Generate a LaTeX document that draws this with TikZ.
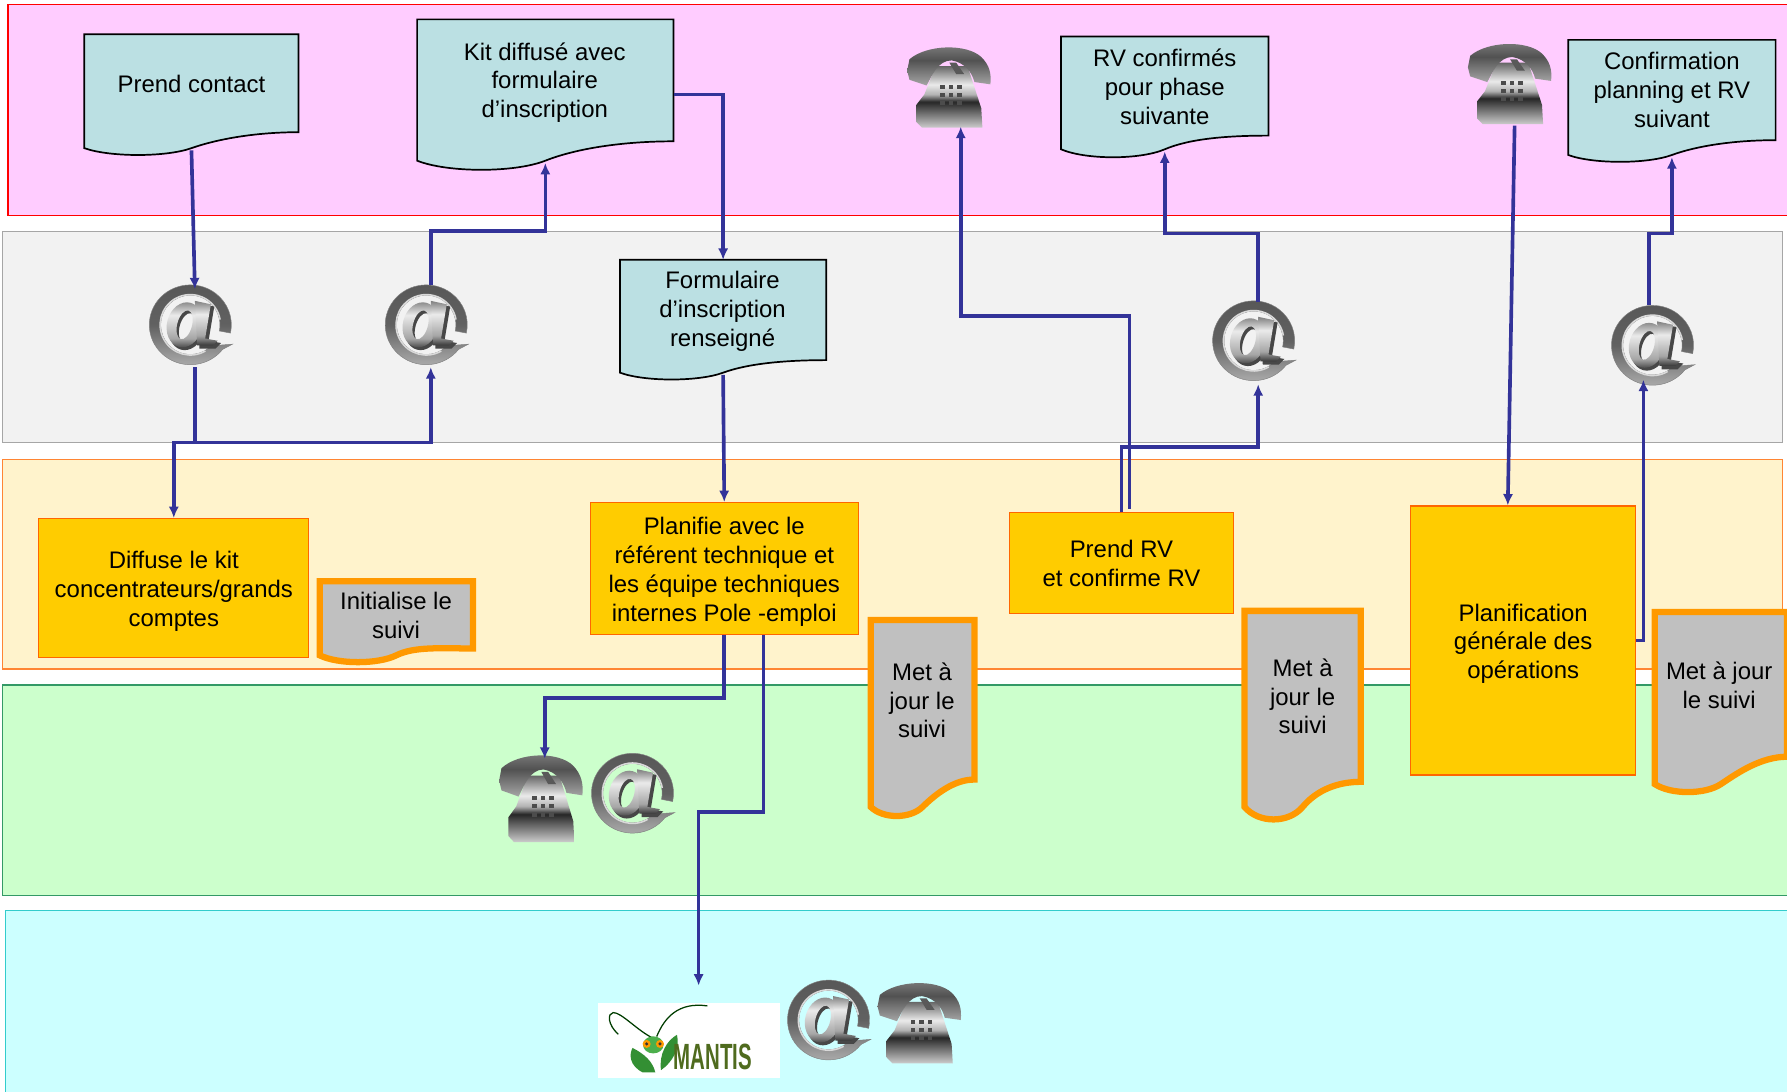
\documentclass[tikz,border=0pt]{standalone}
\usepackage{fontspec}
\setmainfont{Liberation Sans}
\usetikzlibrary{calc,arrows.meta}

\definecolor{flowblue}{HTML}{333399}
\definecolor{docblue}{HTML}{BBE0E3}
\definecolor{taskgold}{HTML}{FFCC00}
\definecolor{taskline}{HTML}{FF6600}
\definecolor{trackorange}{HTML}{FF9900}
\definecolor{trackgray}{HTML}{C0C0C0}
\definecolor{bandpink}{HTML}{FFCCFF}
\definecolor{bandgray}{HTML}{F2F2F2}
\definecolor{bandcream}{HTML}{FFF3CC}
\definecolor{bandgreen}{HTML}{CCFFCC}
\definecolor{bandcyan}{HTML}{CCFFFF}
\definecolor{linegreen}{HTML}{339966}
\definecolor{linecyan}{HTML}{33CCCC}
\definecolor{mantisgreen}{HTML}{4F6B1E}

\pgfdeclareverticalshading{metalring}{100bp}{color(0bp)=(black!30); color(25bp)=(black!30); color(50bp)=(black!62); color(75bp)=(black!66); color(100bp)=(black!66)}
\pgfdeclareverticalshading{metalletter}{100bp}{color(0bp)=(black!78); color(25bp)=(black!78); color(36bp)=(black!35); color(60bp)=(black!8); color(75bp)=(black!50); color(100bp)=(black!50)}
\pgfdeclareverticalshading{phonebody}{100bp}{color(0bp)=(black!20); color(25bp)=(black!20); color(46bp)=(black!85); color(52bp)=(black!30); color(60bp)=(black!8); color(75bp)=(black!60); color(100bp)=(black!60)}
\pgfdeclareverticalshading{phonehandset}{100bp}{color(0bp)=(black!35); color(25bp)=(black!35); color(55bp)=(black!68); color(75bp)=(black!50); color(100bp)=(black!50)}

\tikzset{
	bandbox/.style={line width=1pt},
	doctext/.style={align=center, inner sep=0pt, font=\fontsize{21}{25.4}\selectfont},
	taskbox/.style={draw=taskline, fill=taskgold, line width=1pt, align=center, inner sep=0pt, font=\fontsize{21}{25.4}\selectfont},
	flow/.style={draw=flowblue, line width=3.2pt, -{Latex[length=10pt,width=9pt]}},
	flowline/.style={draw=flowblue, line width=3.2pt},
	iconbox/.style={inner sep=0pt, minimum width=73pt, minimum height=70pt},
	noticedoc/.style={draw=black, line width=1.5pt, fill=docblue},
	trackdoc/.style={draw=trackorange, line width=5.5pt, fill=trackgray}
}

\def\textdrop{\rule{0pt}{21pt}}

\def\docshape[#1](#2)(#3,#4:#5,#6,#7,#8){
	\pgfmathsetmacro\docxm{(#3+#4)/2}
	\pgfmathsetmacro\docdx{0.12*(#4-#3)}
	\pgfmathsetmacro\docyc{#7+(#8-#7)*4/3}
	\pgfmathsetmacro\docyu{2*#7-\docyc}
	\draw[#1] (#3,#5) -- (#4,#5) -- (#4,#6) .. controls ({#4-0.2*(#4-#3)},#6) and ({\docxm+\docdx},\docyu) .. (\docxm,#7) .. controls ({\docxm-\docdx},\docyc) and ({#3+\docdx},\docyc) .. (#3,#7) -- cycle;
	\coordinate (#2-n) at (\docxm,#5);
	\coordinate (#2-s) at (\docxm,{#7+2});
	\coordinate (#2-e) at (#4,{(#5+#6)/2});
}

\def\mailicon(#1)(#2,#3){
	\begin{scope}[shift={(#2,#3)}]
		\shade[shading=metalring, draw=black!50, line width=.4pt] (37,17) -- (38:36 and 35) arc (38:372:36 and 35) -- (372:26 and 26) arc (372:45:26 and 26) -- cycle;
		\draw[white!85!black, line width=1.4pt] (60:26.5 and 26.5) arc (60:350:26.5 and 26.5);
		\fill[black!72, even odd rule] (-3,2.5) circle [x radius=15.5, y radius=20, rotate=-15] (-3,2.5) circle [x radius=6.5, y radius=13, rotate=-15];
		\fill[black!72] (7,-19) -- (21,-16) -- (16,14) -- (27,16) -- (22,21) -- (8,21) -- cycle;
		\shade[shading=metalletter, even odd rule] (-5,0) circle [x radius=15.5, y radius=20, rotate=-15] (-5,0) circle [x radius=6.5, y radius=13, rotate=-15];
		\shade[shading=metalletter] (4,-21) -- (18,-18) -- (13,12) -- (24,14) -- (20,18) -- (6,18) -- cycle;
		\node[iconbox] (#1) at (0,0) {};
	\end{scope}
}

\def\phoneicon(#1)(#2,#3,#4){
	\begin{scope}[shift={(#2,#3)}]
		\begin{scope}[yscale=#4]
			\shade[shading=phonebody] (-12,-18) -- (16,-18) -- (28,19) -- (29,36) -- (-24,36) -- (-29,31) -- (-29,16) -- (-22,7) -- cycle;
			\shade[shading=phonehandset] (-35,-24) .. controls (-20,-37) and (15,-38) .. (28,-26) .. controls (35,-19) and (37,-12) .. (36,-2) -- (22,-4) .. controls (20,-12) and (14,-21) .. (2,-23) .. controls (-10,-23) and (-15,-10) .. (-20,-1) -- (-35,-6) -- (-37,-14) -- cycle;
			\fill[black!65] (0,-21) -- (6,-21) -- (13,-11) -- (6,-11) -- cycle;
			\foreach \kx in {-6,1.5,9}
				\foreach \ky in {0,7,14}
					\fill[black!70] (\kx-2,\ky-1.7) rectangle (\kx+2,\ky+1.7);
		\end{scope}
		\node[iconbox, minimum width=74pt, minimum height=74pt] (#1) at (0,0) {};
	\end{scope}
}

\begin{document}
\begin{tikzpicture}[x=1pt, y=-1pt]
			%%%%% START %%%%%
			\clip (0,0) rectangle (1568,957.3);
			
			\draw[bandbox, draw=red, fill=bandpink] (7,4) rectangle (1575,189);
			\draw[bandbox, draw=black!35, fill=bandgray] (2,203) rectangle (1564,388);
			\draw[bandbox, draw=taskline!80, fill=bandcream] (2,403) rectangle (1564,587);
			\draw[bandbox, draw=linegreen, fill=bandgreen] (2,601) rectangle (1575,786);
			\draw[bandbox, draw=linecyan, fill=bandcyan] (5,799) rectangle (1575,970);
			
			\docshape[noticedoc](prend)(74,262:30,116,130,136);
			\node[doctext] (prendtext) at (168,74) {Prend contact};
			\docshape[noticedoc](kit)(366,591:17,124,141,149);
			\node[doctext] (kittext) at (478,72.5) {Kit diffusé avec\\formulaire\\d’inscription};
			\docshape[noticedoc](form)(544,725:228,316,327,333);
			\node[doctext] (formtext) at (634,273) {Formulaire\\d’inscription\\renseigné};
			\docshape[noticedoc](rv)(931,1113:32,119,131,138);
			\node[doctext] (rvtext) at (1022,76) {RV confirmés\\pour phase\\suivante};
			\docshape[noticedoc](conf)(1376,1558:35,123,136,142);
			\node[doctext] (conftext) at (1467,79) {Confirmation\\planning et RV\\suivant};
			
			\node[taskbox, minimum width=237pt, minimum height=122pt] (diffuse) at (152.5,516) {\textdrop Diffuse le kit\\concentrateurs/grands\\comptes};
			\node[taskbox, minimum width=235pt, minimum height=116pt] (planifie) at (635.5,499) {\textdrop Planifie avec le\\référent technique et\\les équipe techniques\\internes Pole -emploi};
			\node[taskbox, minimum width=196pt, minimum height=88pt] (prendrv) at (984,494) {Prend RV\\et confirme RV};
			\node[taskbox, minimum width=197pt, minimum height=236pt] (plan) at (1336.5,562) {\textdrop Planification\\générale des\\opérations};
			
			\docshape[trackdoc](suivi1)(280.5,415:510,569,575,581);
			\node[doctext] (suivi1text) at (347.5,540) {Initialise le\\suivi};
			\docshape[trackdoc](suivi2)(764,855:544,684,708,716);
			\node[doctext] (suivi2text) at (809,614.5) {Met à\\jour le\\suivi};
			\docshape[trackdoc](suivi3)(1092,1194:536,686,708,719);
			\node[doctext] (suivi3text) at (1143,611) {Met à\\jour le\\suivi};
			\docshape[trackdoc](suivi4)(1452,1568:537,664,688,695);
			\node[doctext] (suivi4text) at (1508.5,601.5) {Met à jour\\le suivi};
			
			\mailicon(mail1)(167,285);
			\mailicon(mail2)(374,285);
			\mailicon(mail3)(1100,299);
			\mailicon(mail4)(1450,303);
			\mailicon(mail5)(555,696);
			\mailicon(mail6)(727,895);
			\phoneicon(phone1)(833,76,1);
			\phoneicon(phone2)(475,700,1.08);
			\phoneicon(phone3)(1325,73,1);
			\phoneicon(phone4)(807,897,1);
			
			\node[fill=white, inner sep=0pt, minimum width=159pt, minimum height=66pt] (mantisbox) at (604.5,913) {};
			\draw[black!60!green!60!black, line width=1.1pt] (542.5,907.5) .. controls (533,899) and (533,889) .. (538,888.5) .. controls (545,888) and (560,905) .. (573.2,911);
			\draw[black!60!green!60!black, line width=1.1pt] (576.2,909.5) .. controls (583,893) and (595,879) .. (620.6,882.6);
			\fill[green!45!black!80] (564,941) .. controls (552,935) and (552,925) .. (555,919.5) .. controls (566,925) and (573,932) .. (575,941) -- cycle;
			\fill[green!45!black!80] (580,939) .. controls (578,925) and (585,913) .. (594,908) .. controls (597,920) and (590,932) .. (580,939) -- cycle;
			\fill[green!55!black!70] (573.2,916.8) circle [x radius=9, y radius=7.5];
			\foreach \ex in {567.4,579.1} {
				\fill[orange!80!yellow] (\ex,916) circle (3.5);
				\fill[black!80] (\ex,916) circle (1.5);
			}
			\node[inner sep=0pt, text=mantisgreen] (mantislabel) at (625.5,927.5) {\scalebox{.56}[1]{\fontsize{32}{32}\selectfont\bfseries MANTIS}};
			
			\draw[flow] (prend-s) -- ([xshift=4pt,yshift=-4pt]mail1.north);
			\draw[flowline] ([xshift=4pt,yshift=-2pt]mail1.south) -- ++(0,66) coordinate (split);
			\draw[flow] (split) -| (diffuse.north);
			\draw[flow] (split) -| ([xshift=4pt,yshift=-2pt]mail2.south);
			\draw[flow] ([xshift=4pt]mail2.north) -- ++(0,-47) -| (kit-s);
			\draw[flow] ([yshift=-12.5pt]kit-e) -| (form-n);
			\draw[flow] (form-s) -- (planifie.north);
			\draw[flow] (planifie.south) -- ++(0,55) -| ([xshift=3pt,yshift=-3pt]phone2.north);
			\draw[flow] ([xshift=34.5pt]planifie.south) -- ++(0,155) -| ([xshift=8.5pt,yshift=15pt]mantisbox.north);
			\draw[flow] ([xshift=7pt,yshift=3pt]prendrv.north) -- ++(0,-169) -| ([xshift=10pt,yshift=2pt]phone1.south);
			\draw[flow] (prendrv.north) -- ++(0,-57) -| ([xshift=4pt,yshift=-3pt]mail3.south);
			\draw[flow] ([xshift=4pt,yshift=-1pt]mail3.north) -- ++(0,-60) -| (rv-s);
			\draw[flow] ([xshift=4pt]phone3.south) -- ([xshift=-13.5pt]plan.north);
			\draw[flow] (plan.east) -| ([xshift=-8pt,yshift=5pt]mail4.south);
			\draw[flow] ([xshift=-3pt]mail4.north) -- ++(0,-63) -| (conf-s);
			%%%%% END %%%%%
		\end{tikzpicture}
\end{document}
